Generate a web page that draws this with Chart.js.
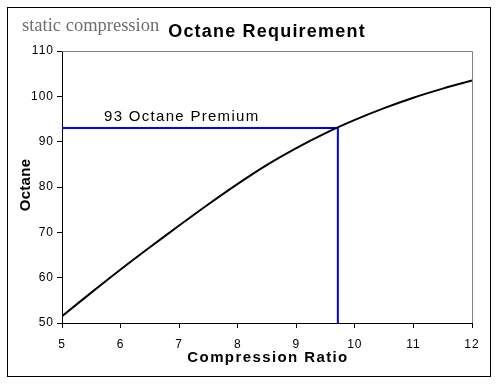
<!DOCTYPE html>
<html>
<head>
<meta charset="utf-8">
<script src="https://cdn.jsdelivr.net/npm/chart.js@4.4.1/dist/chart.umd.min.js"></script>
<style>
  html, body { margin: 0; padding: 0; background: #fff; }
  #wrap { width: 500px; height: 384px; position: relative; }
</style>
</head>
<body>
<div id="wrap"><canvas id="c" width="500" height="384"></canvas></div>
<script>
// ---- data ----
const compressionRatio = [5, 5.5, 6, 6.5, 7, 7.5, 8, 8.5, 9, 9.5, 10, 10.5, 11, 11.5, 12];
const octaneRequired   = [51.5, 56.7, 61.8, 66.7, 71.5, 76.2, 80.7, 84.9, 88.6, 91.9, 94.8, 97.4, 99.7, 101.7, 103.5];
const premiumX = [5, 9.71, 9.71];
const premiumY = [93, 93, 50];
const xTicks = [5, 6, 7, 8, 9, 10, 11, 12];
const yTicks = [50, 60, 70, 80, 90, 100, 110];
const titleText = 'Octane Requirement';
const overlayText = 'static compression';
const premiumLabel = '93 Octane Premium';
const xTitle = 'Compression Ratio';
const yTitle = 'Octane';

const curve = compressionRatio.map((x, i) => ({ x: x, y: octaneRequired[i] }));
const premium = premiumX.map((x, i) => ({ x: x, y: premiumY[i] }));

const decor = {
  id: 'decor',
  beforeDraw(chart) {
    const ctx = chart.ctx;
    ctx.save();
    ctx.fillStyle = '#fff';
    ctx.fillRect(0, 0, chart.width, chart.height);
    ctx.strokeStyle = '#000';
    ctx.lineWidth = 1;
    ctx.strokeRect(7.5, 7.5, 483, 369);
    ctx.restore();
    ctx.letterSpacing = '1px';
  },
  afterDatasetsDraw(chart) {
    const ctx = chart.ctx;
    const a = chart.chartArea;
    ctx.save();
    ctx.letterSpacing = '0px';
    // top and right plot border (gray)
    ctx.strokeStyle = '#808080';
    ctx.lineWidth = 1;
    ctx.beginPath();
    ctx.moveTo(a.left, Math.floor(a.top) + 0.5);
    ctx.lineTo(a.right + 0.5, Math.floor(a.top) + 0.5);
    ctx.lineTo(Math.floor(a.right) + 0.5, a.bottom);
    ctx.stroke();

    const ys = chart.scales.y;
    // premium label
    ctx.fillStyle = '#000';
    ctx.font = '15px "Liberation Sans", Arial, sans-serif';
    ctx.letterSpacing = '1.3px';
    ctx.textAlign = 'left';
    ctx.textBaseline = 'alphabetic';
    ctx.fillText(premiumLabel, 104, ys.getPixelForValue(premiumY[0]) - 7);

    // title
    ctx.font = 'bold 18px "Liberation Sans", Arial, sans-serif';
    ctx.letterSpacing = '1.2px';
    ctx.textAlign = 'center';
    ctx.fillText(titleText, (a.left + a.right) / 2, 37);

    // x axis title
    ctx.font = 'bold 15px "Liberation Sans", Arial, sans-serif';
    ctx.letterSpacing = '1.4px';
    ctx.textAlign = 'center';
    ctx.fillText(xTitle, (a.left + a.right) / 2 + 1, 362);

    // y axis title
    ctx.save();
    ctx.translate(29.5, (a.top + a.bottom) / 2 - 2);
    ctx.rotate(-Math.PI / 2);
    ctx.letterSpacing = '0.3px';
    ctx.fillText(yTitle, 0, 0);
    ctx.restore();

    // overlay text
    ctx.font = '18.5px "Liberation Serif", "Times New Roman", serif';
    ctx.letterSpacing = '0px';
    ctx.fillStyle = '#6e6e6e';
    ctx.textAlign = 'left';
    ctx.fillText(overlayText, 22, 31);
    ctx.restore();
  }
};

new Chart(document.getElementById('c'), {
  type: 'scatter',
  data: {
    datasets: [
      {
        label: 'Octane',
        data: curve,
        showLine: true,
        borderColor: '#000',
        borderWidth: 2,
        pointRadius: 0,
        tension: 0.3,
        fill: false
      },
      {
        label: '93 Octane',
        data: premium,
        showLine: true,
        borderColor: '#0000ff',
        borderWidth: 2,
        pointRadius: 0,
        tension: 0,
        fill: false
      }
    ]
  },
  options: {
    responsive: false,
    animation: false,
    devicePixelRatio: 1,
    layout: { padding: { top: 51, right: 28, left: 0, bottom: 0 } },
    plugins: { legend: { display: false }, title: { display: false }, tooltip: { enabled: false } },
    scales: {
      x: {
        type: 'linear',
        min: 5, max: 12,
        afterFit(s) { s.height = 61; },
        afterBuildTicks(s) { s.ticks = xTicks.map(v => ({ value: v })); },
        grid: { display: true, drawOnChartArea: false, drawTicks: true, tickLength: 5, color: '#000' },
        border: { display: true, color: '#000', width: 1 },
        ticks: { color: '#000', font: { family: '"Liberation Sans", Arial, sans-serif', size: 12 }, padding: 9, maxRotation: 0 },
        title: { display: false }
      },
      y: {
        type: 'linear',
        min: 50, max: 110,
        afterFit(s) { s.width = 62; },
        afterBuildTicks(s) { s.ticks = yTicks.map(v => ({ value: v })); },
        grid: { display: true, drawOnChartArea: false, drawTicks: true, tickLength: 5, color: '#000' },
        border: { display: true, color: '#000', width: 1 },
        ticks: { color: '#000', font: { family: '"Liberation Sans", Arial, sans-serif', size: 12 }, padding: 3 },
        title: { display: false }
      }
    }
  },
  plugins: [decor]
});
</script>
</body>
</html>
